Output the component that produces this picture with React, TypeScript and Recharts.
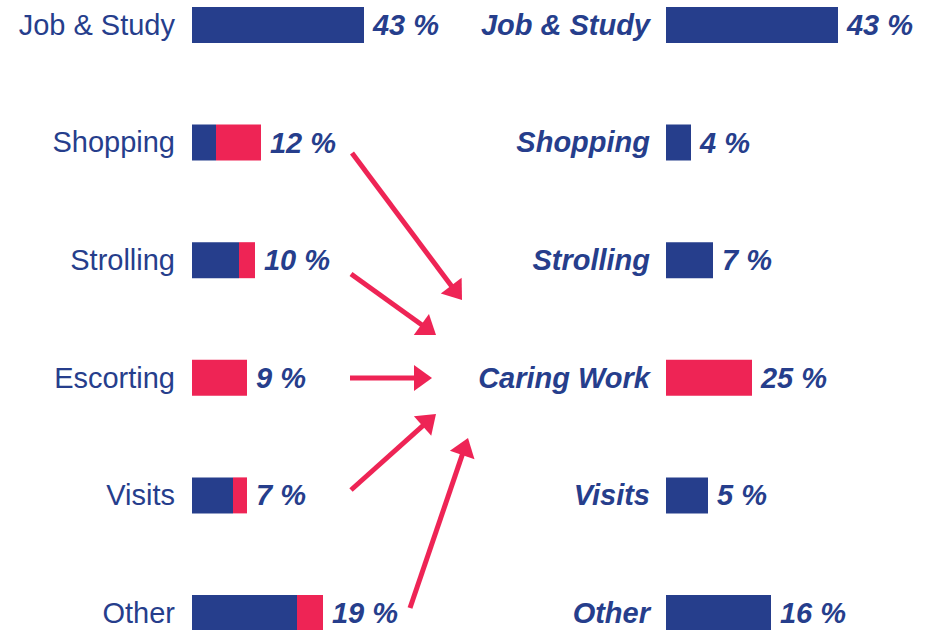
import { BarChart, Bar, XAxis, YAxis, LabelList, Cell } from 'recharts';

// bar lengths as drawn (same unit across both panels), share labels printed next to them
const leftCategories = ['Job & Study', 'Shopping', 'Strolling', 'Escorting', 'Visits', 'Other'];
const leftOtherPurpose = [43, 6, 11.75, 0, 10.25, 26.25];
const leftCaring = [0, 11.25, 4, 13.75, 3.5, 6.5];
const leftShareLabels = ['43 %', '12 %', '10 %', '9 %', '7 %', '19 %'];

const rightCategories = ['Job & Study', 'Shopping', 'Strolling', 'Caring Work', 'Visits', 'Other'];
const rightValues = [43, 6.25, 11.75, 21.5, 10.5, 26.25];
const rightShareLabels = ['43 %', '4 %', '7 %', '25 %', '5 %', '16 %'];
const rightHighlight = 'Caring Work';

// arrows from the left rows into "Caring Work"
const arrows = [
  { from: [352, 153], to: [462, 300] },
  { from: [351, 274], to: [436, 335] },
  { from: [350, 378], to: [432, 378] },
  { from: [351, 490], to: [436, 414] },
  { from: [410, 608], to: [468, 438] },
];

const BLUE = '#263E8C';
const RED = '#EE2455';
const FONT = '"Liberation Sans", Arial, Helvetica, sans-serif';

const ROW = 117.6;
const CHART_H = ROW * 6;
const PX_PER_UNIT = 4;

const leftData = leftCategories.map((name, i) => ({
  name,
  other: leftOtherPurpose[i],
  caring: leftCaring[i],
  label: leftShareLabels[i],
}));

const rightData = rightCategories.map((name, i) => ({
  name,
  value: rightValues[i],
  label: rightShareLabels[i],
}));

function ValueText({ x, y, text }: { x: number; y: number; text: string }) {
  return (
    <text
      x={x}
      y={y}
      dy={10}
      fill={BLUE}
      fontFamily={FONT}
      fontSize={29}
      fontWeight={700}
      fontStyle="italic"
    >
      {text}
    </text>
  );
}

// label goes after the last non-empty segment of the stacked bar
const stackLabel = (segment: 'other' | 'caring') => (props: any) => {
  const { x, y, width, height, value } = props;
  const row = leftData.find((d) => d.name === value);
  if (!row) return null;
  const isLast = segment === 'caring' ? row.caring > 0 : row.caring === 0;
  if (!isLast) return null;
  return <ValueText x={Number(x) + Number(width) + 9} y={Number(y) + Number(height) / 2} text={row.label} />;
};

const plainLabel = (props: any) => {
  const { x, y, width, height, value } = props;
  const row = rightData.find((d) => d.name === value);
  if (!row) return null;
  return <ValueText x={Number(x) + Number(width) + 9} y={Number(y) + Number(height) / 2} text={row.label} />;
};

function RightTick({ x, y, payload }: any) {
  return (
    <text
      x={x}
      y={y}
      dy={10}
      textAnchor="end"
      fill={BLUE}
      fontFamily={FONT}
      fontSize={29}
      fontWeight={700}
      fontStyle="italic"
    >
      {payload.value}
    </text>
  );
}

function LeftTick({ x, y, payload }: any) {
  return (
    <text x={x} y={y} dy={10} textAnchor="end" fill={BLUE} fontFamily={FONT} fontSize={29}>
      {payload.value}
    </text>
  );
}

function Arrows() {
  const head = 18;
  return (
    <svg width={937} height={630} style={{ position: 'absolute', left: 0, top: 0, pointerEvents: 'none' }}>
      {arrows.map((a, i) => {
        const [x1, y1] = a.from;
        const [x2, y2] = a.to;
        const len = Math.hypot(x2 - x1, y2 - y1);
        const ux = (x2 - x1) / len;
        const uy = (y2 - y1) / len;
        const bx = x2 - ux * head;
        const by = y2 - uy * head;
        const px = -uy * 13;
        const py = ux * 13;
        return (
          <g key={i}>
            <line x1={x1} y1={y1} x2={bx + ux * 2} y2={by + uy * 2} stroke={RED} strokeWidth={5} />
            <polygon points={`${x2},${y2} ${bx + px},${by + py} ${bx - px},${by - py}`} fill={RED} />
          </g>
        );
      })}
    </svg>
  );
}

export default function App() {
  const leftAxisW = 192;
  const leftPlotW = 274;
  const rightAxisW = 200;
  const rightPlotW = 271;
  return (
    <div style={{ position: 'absolute', left: 0, top: 0, width: 937, height: 630, overflow: 'hidden' }}>
      <div style={{ position: 'absolute', left: 0, top: 25 - ROW / 2 }}>
        <BarChart
          width={leftAxisW + leftPlotW}
          height={CHART_H}
          data={leftData}
          layout="vertical"
          margin={{ top: 0, right: 0, bottom: 0, left: 0 }}
          barSize={36}
        >
          <XAxis type="number" hide domain={[0, leftPlotW / PX_PER_UNIT]} />
          <YAxis
            type="category"
            dataKey="name"
            width={leftAxisW}
            axisLine={false}
            tickLine={false}
            tickSize={0}
            tickMargin={17}
            tick={<LeftTick />}
            interval={0}
          />
          <Bar dataKey="other" stackId="a" fill={BLUE} isAnimationActive={false}>
            <LabelList dataKey="name" content={stackLabel('other')} />
          </Bar>
          <Bar dataKey="caring" stackId="a" fill={RED} isAnimationActive={false}>
            <LabelList dataKey="name" content={stackLabel('caring')} />
          </Bar>
        </BarChart>
      </div>
      <div style={{ position: 'absolute', left: 666 - rightAxisW, top: 25 - ROW / 2 }}>
        <BarChart
          width={rightAxisW + rightPlotW}
          height={CHART_H}
          data={rightData}
          layout="vertical"
          margin={{ top: 0, right: 0, bottom: 0, left: 0 }}
          barSize={36}
        >
          <XAxis type="number" hide domain={[0, rightPlotW / PX_PER_UNIT]} />
          <YAxis
            type="category"
            dataKey="name"
            width={rightAxisW}
            axisLine={false}
            tickLine={false}
            tickSize={0}
            tickMargin={16}
            tick={<RightTick />}
            interval={0}
          />
          <Bar dataKey="value" isAnimationActive={false}>
            {rightData.map((d) => (
              <Cell key={d.name} fill={d.name === rightHighlight ? RED : BLUE} />
            ))}
            <LabelList dataKey="name" content={plainLabel} />
          </Bar>
        </BarChart>
      </div>
      <Arrows />
    </div>
  );
}
